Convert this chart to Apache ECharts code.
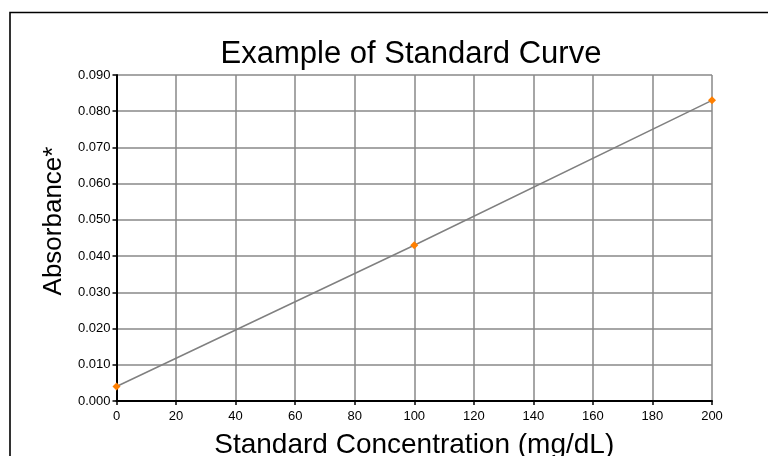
<!DOCTYPE html>
<html>
<head>
<meta charset="utf-8">
<script src="https://cdn.jsdelivr.net/npm/echarts@6/dist/echarts.min.js"></script>
<style>
html,body{margin:0;padding:0;background:#fff;}
#chart{width:768px;height:456px;}
</style>
</head>
<body>
<div id="chart"></div>
<script>
const concentrations = [0, 100, 200];
const absorbance = [0.004, 0.043, 0.083];
const titleText = 'Example of Standard Curve';
const xName = 'Standard Concentration (mg/dL)';
const yName = 'Absorbance*';

const chart = echarts.init(document.getElementById('chart'), null, {renderer: 'canvas'});
const font = 'Liberation Sans, Arial, sans-serif';
chart.setOption({
  animation: false,
  backgroundColor: '#ffffff',
  title: {
    text: titleText,
    left: 406, top: 34, textAlign: 'center',
    textStyle: {fontFamily: font, fontSize: 31, fontWeight: 'normal', color: '#000'}
  },
  graphic: [{
    type: 'polyline',
    shape: {points: [[10, 470], [10, 12.5], [780, 12.5]]},
    style: {stroke: '#000', lineWidth: 1.6, fill: null}
  }],
  grid: {left: 116.5, right: 56, top: 75, bottom: 55, containLabel: false, outerBoundsMode: 'none'},
  xAxis: {
    type: 'value', min: 0, max: 200, interval: 20,
    name: xName, nameLocation: 'middle', nameGap: 30,
    nameTextStyle: {fontFamily: font, fontSize: 28, color: '#000'},
    axisLine: {show: true, onZero: false, lineStyle: {color: '#000', width: 2}},
    axisTick: {show: true, inside: false, length: 4, lineStyle: {color: '#000', width: 1.5}},
    axisLabel: {fontFamily: font, fontSize: 13, color: '#000', margin: 9},
    splitLine: {show: true, lineStyle: {color: '#888', width: 1.5}}
  },
  yAxis: {
    type: 'value', min: 0, max: 0.09, interval: 0.01,
    name: yName, nameLocation: 'middle', nameGap: 50, nameRotate: 90,
    nameTextStyle: {fontFamily: font, fontSize: 26, color: '#000', padding: [0, 0, 0, 34]},
    axisLine: {show: true, onZero: false, lineStyle: {color: '#000', width: 2}},
    axisTick: {show: true, inside: false, length: 4, lineStyle: {color: '#000', width: 1.5}},
    axisLabel: {fontFamily: font, fontSize: 13, color: '#000', margin: 6,
      formatter: v => v.toFixed(3)},
    splitLine: {show: true, lineStyle: {color: '#888', width: 1.5}}
  },
  series: [{
    type: 'line',
    data: concentrations.map((c, i) => [c, absorbance[i]]),
    lineStyle: {color: '#808080', width: 1.5},
    symbol: 'diamond', symbolSize: 8,
    itemStyle: {color: '#ff7f00'},
    z: 5
  }]
});
</script>
</body>
</html>
